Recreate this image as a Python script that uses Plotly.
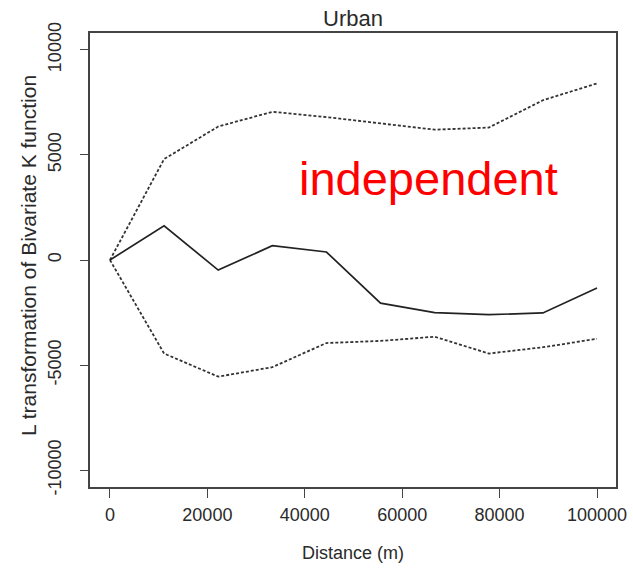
import plotly.graph_objects as go

distance = [0, 11111, 22222, 33333, 44444, 55556, 66667, 77778, 88889, 100000]
observed = [0, 1630, -480, 680, 380, -2050, -2500, -2600, -2520, -1330]
upper_env = [0, 4800, 6350, 7050, 6800, 6500, 6200, 6300, 7600, 8400]
lower_env = [0, -4450, -5550, -5100, -3950, -3850, -3650, -4450, -4150, -3750]

title_text = "Urban"
x_label = "Distance (m)"
y_label = "L transformation of Bivariate K function"
note_text = "independent"
x_ticks = [0, 20000, 40000, 60000, 80000, 100000]
y_ticks = [-10000, -5000, 0, 5000, 10000]

FONT = "Liberation Sans, Arial, sans-serif"
INK = "#2a2a2a"

fig = go.Figure()
fig.add_trace(go.Scatter(x=distance, y=upper_env, mode="lines",
                         line=dict(color="#333333", width=1.8, dash="3px,2px")))
fig.add_trace(go.Scatter(x=distance, y=lower_env, mode="lines",
                         line=dict(color="#333333", width=1.8, dash="3px,2px")))
fig.add_trace(go.Scatter(x=distance, y=observed, mode="lines",
                         line=dict(color="#222222", width=1.7)))

fig.update_layout(
    width=633, height=571,
    margin=dict(l=90, r=17, t=33, b=84, autoexpand=False),
    paper_bgcolor="white", plot_bgcolor="white",
    showlegend=False,
    font=dict(family=FONT, color=INK, size=13),
    xaxis=dict(range=[-4100, 103900], tickvals=x_ticks, ticktext=[str(v) for v in x_ticks],
               showgrid=False, zeroline=False, showline=True, mirror=True, automargin=False,
               linecolor="#444444", linewidth=1.5, ticks="outside", ticklen=9,
               tickcolor="#444444", tickwidth=1.2, ticklabelstandoff=2,
               tickfont=dict(size=18, color=INK)),
    yaxis=dict(range=[-10800, 10800], tickvals=y_ticks, ticktext=[str(v) for v in y_ticks],
               showgrid=False, zeroline=False, showline=True, mirror=True, automargin=False,
               linecolor="#444444", linewidth=1.5, ticks="outside", ticklen=8,
               tickcolor="#444444", tickwidth=1.2, tickangle=-90, ticklabelstandoff=12,
               tickfont=dict(size=18, color=INK)),
    annotations=[
        dict(text=title_text, xref="paper", yref="paper", x=0.5, y=1, yanchor="bottom",
             yshift=0, showarrow=False, font=dict(size=22, color=INK)),
        dict(text=x_label, xref="paper", yref="paper", x=0.5, y=0, yanchor="middle",
             yshift=-66, showarrow=False, font=dict(size=18, color=INK)),
        dict(text=y_label, xref="paper", yref="paper", x=0, y=0.5, xanchor="center",
             xshift=-62, yshift=4, textangle=-90, showarrow=False, font=dict(size=21, color=INK)),
        dict(text=note_text, xref="paper", yref="paper", x=0.6435, y=0.742,
             showarrow=False, font=dict(size=47, color="#ff0000")),
    ],
)

fig.write_html("out.html")
